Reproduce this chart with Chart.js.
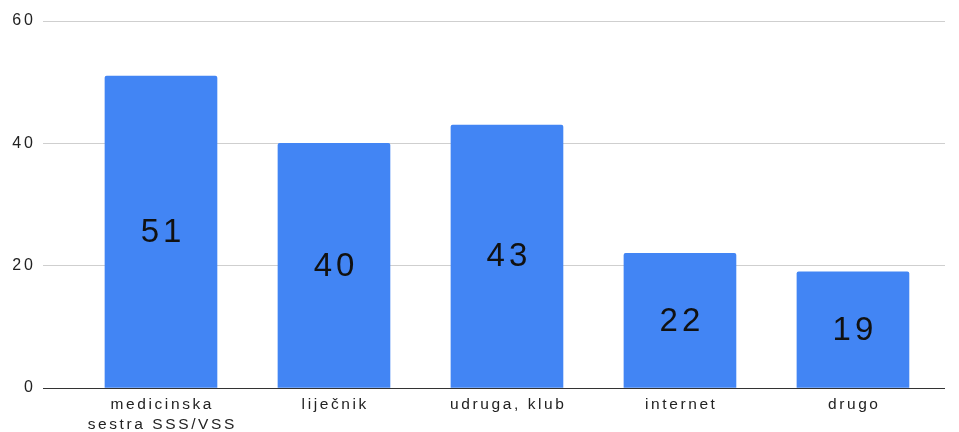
<!DOCTYPE html>
<html>
<head>
<meta charset="utf-8">
<script src="https://cdn.jsdelivr.net/npm/chart.js@4"></script>
<style>
  html, body { margin: 0; padding: 0; background: #fff; }
  canvas { display: block; }
</style>
</head>
<body>
<canvas id="chart" width="959" height="432"></canvas>
<script>
const categories = [["medicinska", "sestra SSS/VSS"], "liječnik", "udruga, klub", "internet", "drugo"];
const counts = [51, 40, 43, 22, 19];
const yTicks = [0, 20, 40, 60];

const FONT = "'Liberation Sans', Arial, sans-serif";

// text with extra room between letters, aligned on the spaced width
function spacedText(ctx, text, x, y, gap, align) {
  ctx.letterSpacing = "0px";
  const n = Array.from(text).length;
  const w = ctx.measureText(text).width + gap * (n - 1);
  const left = align === "right" ? x - w : x - w / 2;
  ctx.letterSpacing = gap + "px";
  ctx.textAlign = "left";
  ctx.textBaseline = "middle";
  ctx.fillText(text, left, y);
  ctx.letterSpacing = "0px";
}

// axis labels and the value inside each bar
const labels = {
  id: "axisText",
  afterDatasetsDraw(chart) {
    const ctx = chart.ctx;
    const xs = chart.scales.x;
    const ys = chart.scales.y;
    ctx.save();
    ctx.fillStyle = "#222";

    ctx.font = "16px " + FONT;
    yTicks.forEach(v => {
      spacedText(ctx, String(v), ys.right - 10, ys.getPixelForValue(v), 3, "right");
    });

    ctx.font = "15.5px " + FONT;
    categories.forEach((c, i) => {
      const lines = Array.isArray(c) ? c : [c];
      const x = xs.getPixelForValue(i);
      lines.forEach((line, j) => {
        spacedText(ctx, line, x, xs.top + 17 + j * 20, 2.6, "center");
      });
    });

    ctx.fillStyle = "#111";
    ctx.font = "33px " + FONT;
    const meta = chart.getDatasetMeta(0);
    meta.data.forEach((bar, i) => {
      spacedText(ctx, String(counts[i]), bar.x, (bar.y + bar.base) / 2 + 1, 4, "center");
    });
    ctx.restore();
  }
};

new Chart(document.getElementById("chart"), {
  type: "bar",
  data: {
    datasets: [{
      data: counts.map((v, i) => ({ x: i, y: v })),
      backgroundColor: "#4285F4",
      borderWidth: 0,
      borderRadius: 2,
      borderSkipped: "bottom",
      barThickness: 112
    }]
  },
  options: {
    responsive: false,
    animation: false,
    layout: { padding: { top: 21, right: 14, left: 0, bottom: 0 } },
    plugins: { legend: { display: false }, tooltip: { enabled: false } },
    scales: {
      x: {
        type: "linear",
        offset: false,
        min: -0.682,
        max: 4.532,
        grid: { display: false, drawTicks: false },
        border: { display: false },
        afterBuildTicks(scale) {
          scale.ticks = categories.map((c, i) => ({ value: i }));
        },
        afterFit(scale) { scale.height = 44; },
        ticks: { color: "rgba(0,0,0,0)", autoSkip: false, maxRotation: 0, callback: () => "" }
      },
      y: {
        min: 0,
        max: 60,
        afterBuildTicks(scale) {
          scale.ticks = yTicks.map(v => ({ value: v }));
        },
        afterFit(scale) { scale.width = 43; },
        grid: {
          drawTicks: false,
          color: (c) => c.tick && c.tick.value === 0 ? "#333" : "#cfcfcf",
          lineWidth: 1
        },
        border: { display: false },
        ticks: { color: "rgba(0,0,0,0)", callback: () => "" }
      }
    }
  },
  plugins: [labels]
});
</script>
</body>
</html>
